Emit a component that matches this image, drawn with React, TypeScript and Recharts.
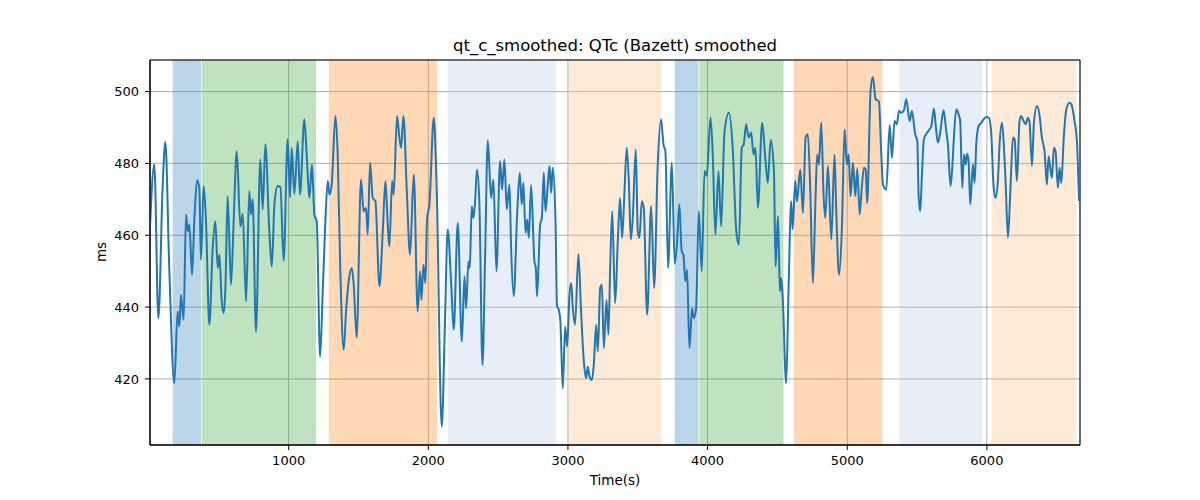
import React from "react";
import {
  LineChart,
  Line,
  XAxis,
  YAxis,
  CartesianGrid,
  ReferenceArea,
} from "recharts";

// sample times (s)
const times = [
  7, 38, 67, 98, 117, 145, 181, 205, 217, 229, 248, 265, 277, 289, 308, 325, 344, 360, 372, 391,
  408, 432, 456, 475, 492, 504, 520, 535, 547, 563, 587, 606, 628, 654, 671, 695, 718, 730, 742, 766,
  797, 814, 833, 862, 879, 898, 921, 941, 964, 993, 1010, 1022, 1041, 1065, 1081, 1112,
  1129, 1148, 1167, 1184, 1201, 1225, 1244, 1263, 1280, 1292, 1308, 1335, 1351, 1370, 1394, 1411,
  1430, 1452, 1466, 1487, 1518, 1537, 1554, 1566, 1583, 1602, 1621, 1650, 1674, 1693, 1709, 1721,
  1741, 1752, 1776, 1793, 1805, 1822, 1846, 1869, 1896, 1924, 1941, 1951, 1965, 1979, 1991, 2008,
  2039, 2060, 2096, 2120, 2139, 2163, 2182, 2211, 2240, 2259,
  2271, 2287, 2297, 2311, 2323, 2335, 2349, 2366, 2388, 2407, 2426, 2450, 2466, 2488, 2514, 2528,
  2545, 2562, 2581, 2593, 2612, 2636, 2655, 2669, 2681, 2696, 2708, 2720, 2736, 2760, 2770, 2779,
  2801, 2813, 2827, 2839, 2856, 2868, 2880, 2891, 2911, 2922, 2934, 2946, 2963, 2980, 2994, 3011,
  3023, 3035, 3051, 3075, 3094, 3114, 3130, 3142, 3154, 3171, 3185, 3202, 3214, 3231, 3243, 3257,
  3276, 3290, 3302, 3317, 3338,
  3357, 3373, 3388, 3404, 3421, 3436, 3450, 3464, 3486, 3500, 3512, 3529, 3543, 3567, 3596, 3617,
  3643, 3667, 3684, 3698, 3717, 3744, 3765, 3782, 3798, 3815, 3827, 3841, 3853, 3870, 3889, 3901,
  3918, 3937, 3958, 3978, 3994, 4021, 4037, 4056, 4078, 4097, 4121, 4152, 4181, 4204, 4224, 4245,
  4259, 4276, 4295, 4312, 4329, 4343, 4360, 4391, 4415, 4431, 4452,
  4475, 4487, 4504, 4518, 4527, 4537, 4563, 4580, 4599, 4609, 4628, 4640, 4664, 4683, 4702, 4718,
  4735, 4754, 4773, 4785, 4797, 4814, 4831, 4843, 4862, 4886, 4909, 4921, 4941, 4962, 4981, 4998,
  5010, 5024, 5041, 5058, 5072, 5089, 5105, 5120, 5132, 5143, 5167, 5184, 5203, 5227, 5244, 5256,
  5280, 5304, 5320, 5339, 5356, 5370, 5387, 5406, 5423, 5447, 5463, 5487, 5502, 5511, 5523, 5535,
  5549, 5573, 5590,
  5602, 5621, 5633, 5649, 5666, 5690, 5709, 5721, 5740, 5752, 5764, 5781, 5797, 5809, 5824, 5836,
  5848, 5859, 5869, 5881, 5900, 5912, 5924, 5941, 5960, 5976, 5996, 6015, 6031, 6048, 6062, 6079,
  6091, 6108, 6122, 6134, 6151, 6168, 6187, 6199, 6215, 6234, 6246, 6258, 6277, 6294, 6306, 6323,
  6337, 6359, 6378, 6394, 6413, 6430, 6442, 6454, 6466, 6480, 6492, 6509, 6521, 6533, 6550, 6569,
  6593, 6605, 6628, 6645, 6660,
];

// QTc (Bazett) smoothed, ms
const qtc = [
  462.5, 479.7, 436.9, 474.1, 486.0, 450.9, 418.8, 438.8, 434.6, 443.4, 436.5, 465.8, 461.1, 463.0, 449.0, 464.8, 475.3, 473.2, 453.2, 473.7,
  463.9, 435.1, 456.5, 463.9, 450.9, 454.6, 442.0, 438.3, 445.3, 470.9, 446.2, 463.9, 483.4, 462.5, 466.0, 441.6, 472.3, 465.8, 470.0, 433.2,
  481.1, 467.2, 485.3, 460.7, 451.3, 468.6, 473.7, 473.4, 452.9, 486.7, 470.6, 484.4, 471.5, 486.2, 471.3, 492.3,
  482.5, 470.4, 479.7, 465.8, 463.9, 426.2, 444.4, 463.9, 475.1, 471.3, 474.1, 493.2, 482.5, 450.0, 428.1, 438.8,
  447.2, 450.9, 446.2, 431.5, 475.5, 466.7, 467.6, 460.2, 480.2, 470.4, 469.5, 445.8, 461.1, 475.1, 463.4, 456.9,
  475.1, 471.3, 493.2, 487.2, 484.4, 493.2, 472.3, 454.6, 476.9, 438.8, 450.0, 442.0, 451.8, 446.7, 464.4, 468.6,
  492.7, 473.2, 406.7, 436.9, 461.6, 447.2, 433.7, 463.4, 430.4, 448.6,
  439.7, 452.7, 450.9, 468.1, 464.8, 469.5, 478.3, 468.6, 423.9, 454.6, 486.4, 470.4, 475.5, 450.0, 480.7, 472.7,
  481.1, 467.2, 474.1, 456.5, 443.0, 465.8, 477.4, 468.6, 474.6, 460.7, 464.4, 459.3, 474.0, 452.7, 450.9, 443.0,
  463.0, 464.8, 477.4, 466.7, 474.1, 479.3, 471.8, 478.8, 463.9, 440.2, 439.3, 436.0, 417.4, 434.6, 429.0, 443.4,
  446.7, 439.7, 435.1, 454.8, 438.8, 424.8, 420.2, 423.4, 420.7, 419.7, 423.9, 435.1, 427.6, 445.3, 446.2, 428.6,
  442.0, 432.3, 450.0, 466.7, 441.1,
  458.3, 470.4, 459.3, 471.3, 484.4, 475.1, 458.8, 464.8, 483.9, 461.1, 459.3, 469.5, 467.6, 437.9, 468.1, 445.3,
  479.7, 492.3, 485.3, 483.4, 450.9, 480.2, 452.0, 458.3, 468.6, 455.5, 454.6, 447.2, 450.4, 428.6, 439.7, 436.9,
  439.7, 466.7, 450.0, 477.9, 476.5, 492.7, 482.5, 460.2, 477.9, 462.5, 488.6, 494.1, 483.4, 462.0, 457.4, 484.4,
  485.3, 490.9, 487.2, 488.6, 482.5, 484.4, 467.6, 491.3, 480.7, 474.6, 486.5,
  477.9, 451.3, 465.3, 444.4, 448.1, 443.4, 418.8, 445.3, 469.5, 461.6, 475.1, 469.5, 478.3, 466.2, 487.2, 488.1,
  473.2, 446.7, 470.4, 482.5, 479.7, 491.3, 470.9, 464.8, 479.3, 458.8, 482.5, 467.6, 449.0, 462.0, 489.5, 479.7,
  482.5, 470.9, 480.2, 470.9, 478.6, 465.8, 473.7, 478.8, 478.3, 469.0, 500.2, 504.1, 497.9, 497.2, 482.5, 474.1,
  472.7, 490.7, 481.6, 491.8, 490.9, 494.6, 494.1, 494.8, 497.9, 491.8, 494.6, 488.1, 486.2, 471.3, 466.7, 476.9,
  486.7, 488.6, 489.5,
  490.4, 495.3, 490.9, 485.8, 488.6, 494.8, 489.0, 485.3, 473.7, 478.8, 487.2, 495.1, 493.7, 491.8, 473.2, 482.5,
  479.7, 482.7, 480.7, 468.6, 479.7, 474.6, 485.3, 490.4, 491.3, 492.3, 492.9, 492.7, 488.6, 473.7, 470.4, 475.1,
  485.3, 491.3, 484.8, 475.1, 459.3, 472.3, 487.2, 486.7, 475.1, 491.8, 493.2, 492.3, 490.9, 492.7, 491.3, 479.3,
  491.3, 496.0, 493.2, 487.2, 483.4, 474.1, 482.0, 478.8, 476.0, 484.4, 483.4, 473.2, 478.8, 474.6, 486.7, 495.1,
  496.9, 496.5, 491.8, 486.2, 469.5,
];

// shaded phases
const spanStart = [169, 377, 1287, 2139, 3004, 3765, 3940, 4618, 5375, 6034];
const spanEnd = [372, 1196, 2063, 2915, 3667, 3935, 4544, 5251, 5969, 6640];
const spanKind = [0, 1, 2, 3, 4, 0, 1, 2, 3, 4];
const kindColors = ["#1f77b4", "#2ca02c", "#ff7f0e", "#aec7e8", "#ffbb78"];

const xTicks = [1000, 2000, 3000, 4000, 5000, 6000];
const yTicks = [420, 440, 460, 480, 500];
const X_MIN = 7;
const X_MAX = 6667;
const Y_MIN = 401.6;
const Y_MAX = 508.8;

const data = times.map((t, i) => ({ t, v: qtc[i] }));

const font = "'DejaVu Sans', sans-serif";
const tickStyle = { fontSize: 13, fill: "#000", fontFamily: font };

export default function App() {
  return (
    <div style={{ position: "absolute", left: 0, top: 0, width: 1200, height: 500, background: "#fff", fontFamily: font }}>
      <div style={{ position: "absolute", left: 150, width: 930, top: 36, textAlign: "center", fontSize: 16.5, color: "#000" }}>
        qt_c_smoothed: QTc (Bazett) smoothed
      </div>
      <div style={{ position: "absolute", left: 150, width: 930, top: 472, textAlign: "center", fontSize: 13.5, color: "#000" }}>
        Time(s)
      </div>
      <div style={{ position: "absolute", left: 101, top: 252, fontSize: 13.5, color: "#000", transform: "translate(-50%, -50%) rotate(-90deg)" }}>
        ms
      </div>
      <LineChart width={1200} height={500} data={data} margin={{ top: 60, right: 120, bottom: 25, left: 90 }}>
        {spanStart.map((s, i) => (
          <ReferenceArea
            key={i}
            x1={s}
            x2={spanEnd[i]}
            y1={Y_MIN}
            y2={Y_MAX}
            fill={kindColors[spanKind[i]]}
            fillOpacity={0.3}
            stroke="none"
          />
        ))}
        <CartesianGrid stroke="#b0b0b0" strokeWidth={1} />
        <XAxis
          dataKey="t"
          type="number"
          domain={[X_MIN, X_MAX]}
          ticks={xTicks}
          allowDataOverflow
          height={30}
          tick={tickStyle}
          tickSize={5}
          tickMargin={6}
          axisLine={{ stroke: "#000" }}
          tickLine={{ stroke: "#000" }}
        />
        <YAxis
          type="number"
          domain={[Y_MIN, Y_MAX]}
          ticks={yTicks}
          allowDataOverflow
          width={60}
          tick={tickStyle}
          tickSize={5}
          tickMargin={6}
          axisLine={{ stroke: "#000" }}
          tickLine={{ stroke: "#000" }}
        />
        <Line
          dataKey="v"
          type="monotone"
          stroke="#1f77b4"
          strokeWidth={2}
          dot={false}
          isAnimationActive={false}
        />
        <ReferenceArea x1={X_MIN} x2={X_MAX} y1={Y_MIN} y2={Y_MAX} fill="none" stroke="#000" strokeWidth={1} />
      </LineChart>
    </div>
  );
}
